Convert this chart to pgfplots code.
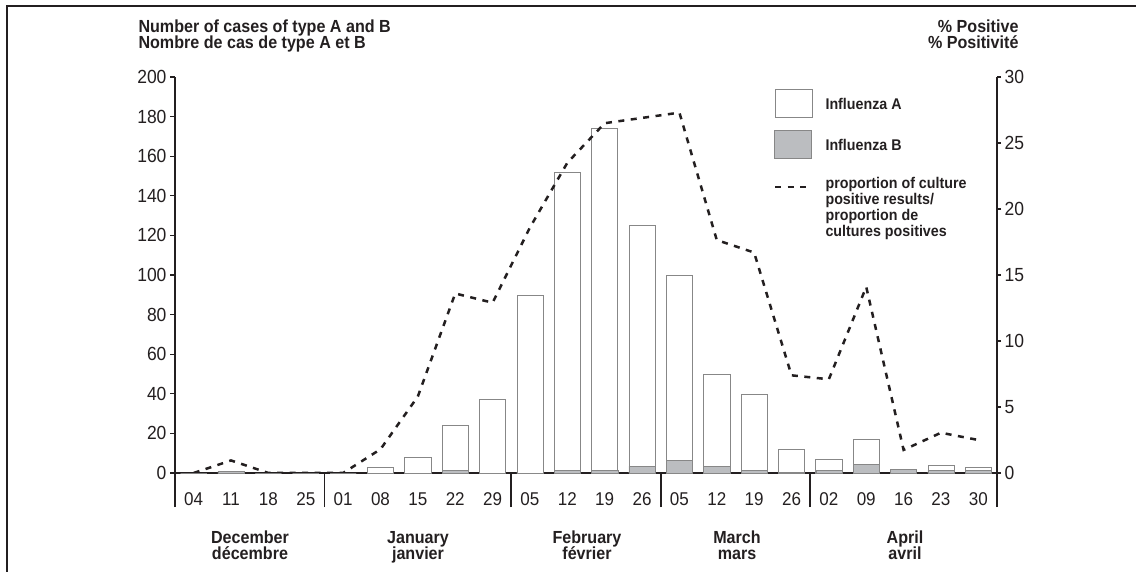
\documentclass[border=0pt]{standalone}
\usepackage{fontspec}
\setmainfont{Liberation Sans}[FakeStretch=0.92]
\usepackage{pgfplots}
\usepackage{pgfplotstable}
\pgfplotsset{compat=1.18}
\definecolor{ink}{RGB}{35,31,32}
\definecolor{bgray}{RGB}{187,189,192}
\definecolor{edge}{RGB}{135,135,135}

\pgfplotstableread{
x A B P
0 0 0 0
1 0 1 0.95
2 0 0 0
3 0 0 0
4 0 0 0
5 3 0 1.8
6 8 0 5.8
7 24 1.5 13.6
8 37 0 12.9
9 90 0 18.6
10 152 1.5 23.5
11 174 1.5 26.5
12 125 3.5 26.9
13 100 6.5 27.3
14 50 3.5 17.65
15 40 1.5 16.7
16 12 0.5 7.4
17 7 1.5 7.1
18 17 4.5 14.1
19 2 2 1.75
20 4 1.5 3.05
21 3 1.5 2.5
}\data

\newcommand{\tickfont}{\fontsize{19}{19}\selectfont}
\newcommand{\labfont}{\fontsize{17.5}{17}\selectfont\bfseries}
\newcommand{\legfont}{\fontsize{15.5}{15}\selectfont\bfseries}

\begin{document}
\begin{tikzpicture}[x=1pt,y=1pt]
\useasboundingbox (0pt,0pt) rectangle (1136pt,571pt);
\draw[ink, line width=2pt] (7pt,-2pt) -- (7pt,565pt) -- (1140pt,565pt);

\begin{axis}[
  at={(175pt,98pt)}, anchor=south west,
  scale only axis, width=822pt, height=396pt,
  xmin=-0.5, xmax=21.5, ymin=0, ymax=200,
  axis y line*=left, axis x line*=bottom,
  axis line style={ink, line width=1.6pt, -},
  /pgf/number format/assume math mode=true,
  tick align=outside, major tick length=5pt,
  ytick={0,20,...,200},
  ytick style={ink, line width=1.2pt},
  yticklabel style={font=\tickfont, color=ink},
  xtick={0,...,21},
  xticklabels={04,11,18,25,01,08,15,22,29,05,12,19,26,05,12,19,26,02,09,16,23,30},
  xtick style={draw=none},
  xticklabel style={font=\fontsize{18.5}{18.5}\selectfont, color=ink, yshift=-11pt},
  minor xtick={0.5,1.5,2.5,4.5,5.5,6.5,7.5,9.5,10.5,11.5,13.5,14.5,15.5,17.5,18.5,19.5,20.5},
  minor tick length=4pt,
  minor x tick style={ink, line width=1pt},
  extra x ticks={-0.5,3.5,8.5,12.5,16.5,21.5},
  extra x tick labels={},
  extra x tick style={major tick length=34pt, xtick style={draw=ink, line width=1.8pt}},
  bar width=0.7, clip=false,
]
\addplot[ybar, bar shift=0pt, fill=white, draw=edge, line width=0.6pt] table[x=x,y=A]{\data};
\addplot[ybar, bar shift=0pt, fill=bgray, draw=edge, line width=0.5pt] table[x=x,y=B]{\data};
\end{axis}

\begin{axis}[
  at={(175pt,98pt)}, anchor=south west,
  scale only axis, width=822pt, height=396pt,
  xmin=-0.5, xmax=21.5, ymin=0, ymax=30,
  axis y line*=right, axis x line=none,
  axis line style={ink, line width=1.6pt, -},
  /pgf/number format/assume math mode=true,
  tick align=outside, major tick length=4pt,
  ytick={0,5,...,30},
  ytick style={ink, line width=1.2pt},
  yticklabel style={font=\tickfont, color=ink},
]
\addplot[ink, line width=2.5pt, dash pattern=on 6pt off 6.5pt] table[x=x,y=P]{\data};
\end{axis}

% titles
\node[anchor=base west, font=\labfont, color=ink] at (135pt,538pt) {Number of cases of type A and B};
\node[anchor=base west, font=\labfont, color=ink] at (135pt,522pt) {Nombre de cas de type A et B};
\node[anchor=base east, font=\labfont, color=ink] at (1022pt,538pt) {\% Positive};
\node[anchor=base east, font=\labfont, color=ink] at (1022pt,522pt) {\% Positivit\'e};

% month labels
\foreach \xx/\a/\b in {250/December/d\'ecembre, 418/January/janvier, 587/February/f\'evrier, 737/March/mars, 905/April/avril}{
  \node[anchor=base, font=\labfont, color=ink] at (\xx pt,28pt) {\a};
  \node[anchor=base, font=\labfont, color=ink] at (\xx pt,12pt) {\b};
}

% legend
\draw[edge, fill=white, line width=1pt] (775pt,453pt) rectangle (812pt,481pt);
\draw[edge, fill=bgray, line width=1pt] (774pt,412pt) rectangle (811pt,440pt);
\draw[ink, line width=2.5pt, dash pattern=on 6pt off 6.5pt] (775pt,384pt) -- (812pt,384pt);
\node[anchor=west, font=\legfont, color=ink] at (822pt,467pt) {Influenza A};
\node[anchor=west, font=\legfont, color=ink] at (822pt,426pt) {Influenza B};
\node[anchor=base west, font=\legfont, color=ink] at (822pt,382pt) {proportion of culture};
\node[anchor=base west, font=\legfont, color=ink] at (822pt,366pt) {positive results/};
\node[anchor=base west, font=\legfont, color=ink] at (822pt,350pt) {proportion de};
\node[anchor=base west, font=\legfont, color=ink] at (822pt,334pt) {cultures positives};
\end{tikzpicture}
\end{document}
